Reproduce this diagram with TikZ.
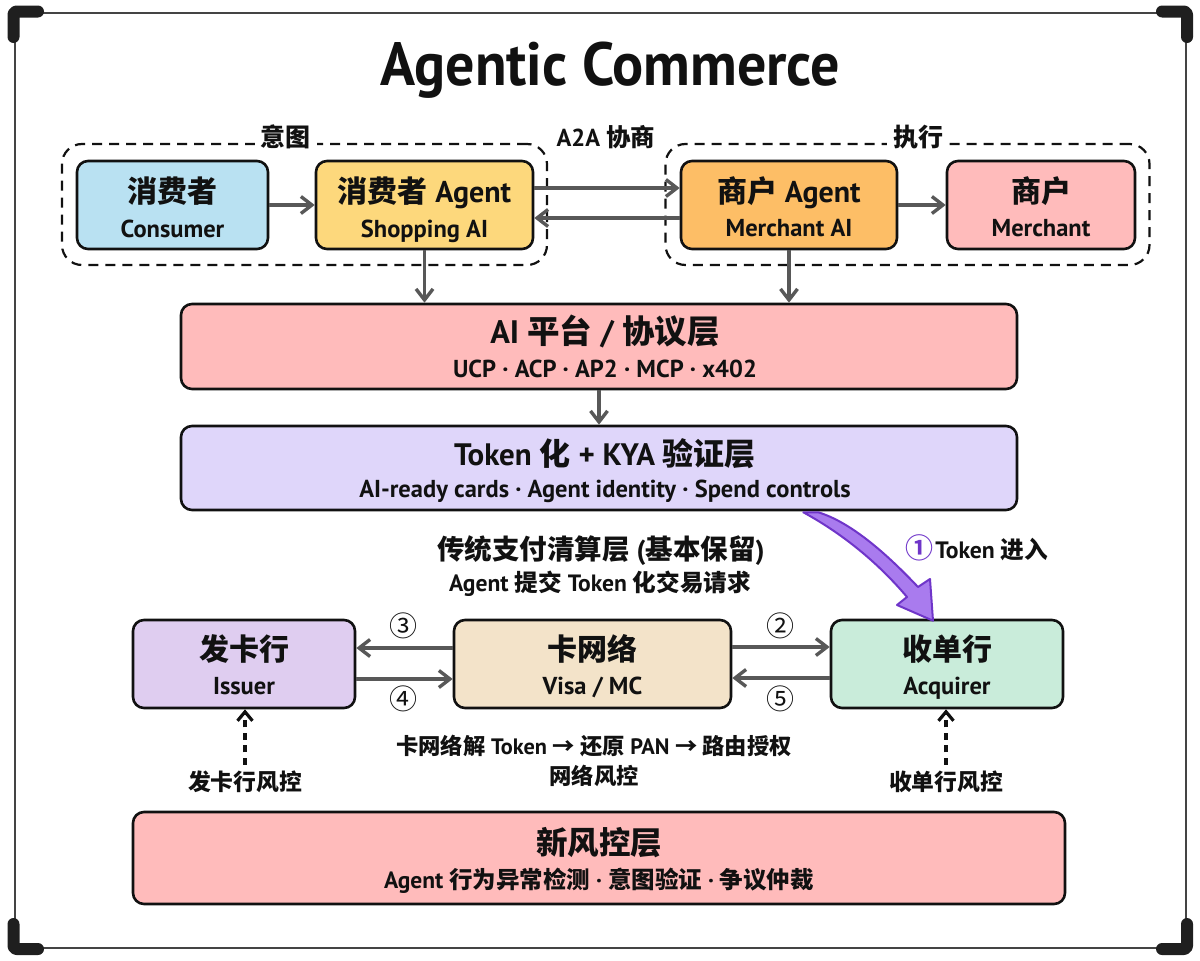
\documentclass[tikz,border=0pt]{standalone}
\usepackage{fontspec}
\setmainfont{PT Sans}[BoldFont={PT Sans Bold}]
\newfontfamily\cjkb{Noto Sans CJK SC Bold}
\newfontfamily\cjkr{Noto Sans CJK SC}
\newcommand{\zh}[1]{{\cjkb #1}}
\newcommand{\fs}[1]{\fontsize{#1}{#1}\selectfont\bfseries}
% title size, top rule, gap, title, sub size
\newcommand{\twoline}[5]{\fs{#1}\rule{0pt}{#2}\vphantom{Agp}#4\\[#3]\fs{#5}\vphantom{Agp}}
\newcommand{\circnum}[1]{{\cjkr\fontsize{28}{28}\selectfont #1}}
\usetikzlibrary{arrows.meta,calc}
\definecolor{ink}{HTML}{111111}
\definecolor{arrowgrey}{HTML}{585858}
\definecolor{framegrey}{HTML}{444444}
\definecolor{cblue}{HTML}{B9E1F2}
\definecolor{cyellow}{HTML}{FDD87C}
\definecolor{corange}{HTML}{FDBE66}
\definecolor{cpink}{HTML}{FFBBBB}
\definecolor{clav}{HTML}{DFD6FA}
\definecolor{cpurp}{HTML}{DFCDF0}
\definecolor{ctan}{HTML}{F3E3C9}
\definecolor{cgreen}{HTML}{C9ECDA}
\definecolor{vio}{HTML}{6F35C9}
\definecolor{viofill}{HTML}{A97BEE}
\tikzset{
  box/.style={draw=ink,line width=2.6pt,rounded corners=11pt,align=center,inner sep=0pt,text=ink},
  link/.style={draw=arrowgrey,line width=3.4pt,-{Straight Barb[length=11pt,width=17pt,line width=3.4pt]}},
  risklink/.style={draw=ink,line width=3.2pt,dash pattern=on 7pt off 5.5pt,-{Straight Barb[length=9pt,width=15pt,line width=3.2pt]}},
  group/.style={draw=ink,line width=2.2pt,dash pattern=on 10pt off 7pt,rounded corners=20pt,inner sep=0pt},
  lab/.style={text=ink,inner sep=0pt,align=center},
  corner/.style={draw=black!88,line width=12pt,line cap=round,line join=round,rounded corners=3pt},
}
\begin{document}
\begin{tikzpicture}[x=1pt,y=-1pt]
\useasboundingbox (0,0) rectangle (1200,961);
% frame
\draw[framegrey,line width=2.6pt] (15,13) rectangle (1186,948);
\draw[corner] (13.5,37) -- (13.5,11.5) -- (38,11.5);
\draw[corner] (1162,11.5) -- (1187,11.5) -- (1187,37);
\draw[corner] (13.5,924) -- (13.5,949) -- (38,949);
\draw[corner] (1162,949) -- (1187,949) -- (1187,924);
% title
\node[lab,xscale=0.95,transform shape] (title) at (610.5,70) {\fs{61}Agentic Commerce};
% groups
\node[group,minimum width=485pt,minimum height=121pt] (g1) at (304.5,204.5) {};
\node[group,minimum width=484pt,minimum height=121pt] (g2) at (907.5,204.5) {};
\node[lab,fill=white,inner xsep=6pt,inner ysep=2pt] (gl1) at (285.5,137) {\fs{25}\zh{意图}};
\node[lab,fill=white,inner xsep=6pt,inner ysep=2pt] (gl2) at (918,137) {\fs{25}\zh{执行}};
\node[lab] (a2a) at (606,137) {\fs{24.5}A2A \zh{协商}};
% top row
\node[box,fill=cblue,minimum width=191pt,minimum height=88pt] (consumer) at (172.5,205) {\twoline{30}{34.5pt}{10pt}{\zh{消费者}}{24.5}Consumer};
\node[box,fill=cyellow,minimum width=217pt,minimum height=88pt] (shop) at (424.5,205) {\twoline{30}{34.5pt}{10pt}{\zh{消费者} Agent}{24.5}Shopping AI};
\node[box,fill=corange,minimum width=216pt,minimum height=88pt] (magent) at (789,205) {\twoline{30}{34.5pt}{10pt}{\zh{商户} Agent}{24.5}Merchant AI};
\node[box,fill=cpink,minimum width=188pt,minimum height=88pt] (merchant) at (1041,205) {\twoline{30}{34.5pt}{10pt}{\zh{商户}}{24.5}Merchant};
% layers
\node[box,fill=cpink,minimum width=836pt,minimum height=85pt] (ai) at (599,346.5) {\twoline{32.5}{33pt}{9pt}{\hspace*{12pt}AI \zh{平台} / \zh{协议层}}{24.5}\hspace*{12pt}UCP · ACP · AP2 · MCP · x402};
\node[box,fill=clav,minimum width=836pt,minimum height=84pt] (token) at (599,468) {\twoline{31}{33pt}{7pt}{\hspace*{12pt}Token \zh{化} + KYA \zh{验证层}}{24.5}\hspace*{12pt}AI-ready cards · Agent identity · Spend controls};
% middle text
\node[lab] (legacy) at (601,551) {\fs{27.5}\zh{传统支付清算层} (\zh{基本保留})};
\node[lab] (legacysub) at (600,584) {\fs{23.6}Agent \zh{提交} Token \zh{化交易请求}};
% bottom row
\node[box,fill=cpurp,minimum width=222pt,minimum height=88pt] (issuer) at (244,664) {\twoline{30}{32.5pt}{9pt}{\zh{发卡行}}{24.5}Issuer};
\node[box,fill=ctan,minimum width=277pt,minimum height=88pt] (network) at (592.5,664) {\twoline{30}{32.5pt}{9pt}{\zh{卡网络}}{24.5}Visa / MC};
\node[box,fill=cgreen,minimum width=232pt,minimum height=88pt] (acq) at (947,664) {\twoline{30}{32.5pt}{9pt}{\zh{收单行}}{24.5}Acquirer};
\node[lab] (n3) at (403,626) {\circnum{③}};
\node[lab] (n4) at (403,699) {\circnum{④}};
\node[lab] (n2) at (780,626) {\circnum{②}};
\node[lab] (n5) at (780,699) {\circnum{⑤}};
\node[lab] (tok1) at (977,548) {\textcolor{vio}{{\cjkb\fontsize{28}{28}\selectfont ①}}\,\fs{23.7}Token \zh{进入}};
\node[lab] (route) at (594,746) {\fs{22.3}\zh{卡网络解} Token \zh{→ 还原} PAN \zh{→ 路由授权}};
\node[lab] (netrisk) at (594,776) {\fs{22.3}\zh{网络风控}};
\node[lab] (irisk) at (245,782) {\fs{22.8}\zh{发卡行风控}};
\node[lab] (arisk) at (946,782) {\fs{22.8}\zh{收单行风控}};
\node[box,fill=cpink,minimum width=932pt,minimum height=92pt] (newrisk) at (599,858) {\twoline{31.5}{32pt}{6pt}{\zh{新风控层}}{23.5}Agent \zh{行为异常检测} · \zh{意图验证} · \zh{争议仲裁}};
% connectors
\draw[link] (consumer.east) -- (shop.west);
\draw[link] (magent.east) -- (merchant.west);
\draw[link] ([yshift=17pt]shop.east) -- ([yshift=17pt]magent.west);
\draw[link] ([yshift=-13pt]magent.west) -- ([yshift=-13pt]shop.east);
\draw[link] (shop.south) -- (shop.south |- ai.north);
\draw[link] (magent.south) -- (magent.south |- ai.north);
\draw[link] (ai.south) -- (token.north);
\draw[link] ([yshift=16pt]network.west) -- ([yshift=16pt]issuer.east);
\draw[link] ([yshift=-15pt]issuer.east) -- ([yshift=-15pt]network.west);
\draw[link] ([yshift=17pt]network.east) -- ([yshift=17pt]acq.west);
\draw[link] ([yshift=-14pt]acq.west) -- ([yshift=-14pt]network.east);
\draw[risklink] ([yshift=6pt]irisk.north) -- (irisk.north |- issuer.south);
\draw[risklink] ([yshift=6pt]arisk.north) -- (arisk.north |- acq.south);
% token arrow
\draw[draw=vio,fill=viofill,line width=2pt,line join=round]
  ([xshift=-200pt,yshift=-1pt]token.south east) .. controls (850,522) and (885,552) .. (918,587)
  -- (930,579) -- ([xshift=-14pt,yshift=-2pt]acq.north) -- (897,605) -- (907,597)
  .. controls (880,565) and (845,535) .. ([xshift=-215pt,yshift=-1pt]token.south east) -- cycle;
\end{tikzpicture}
\end{document}
